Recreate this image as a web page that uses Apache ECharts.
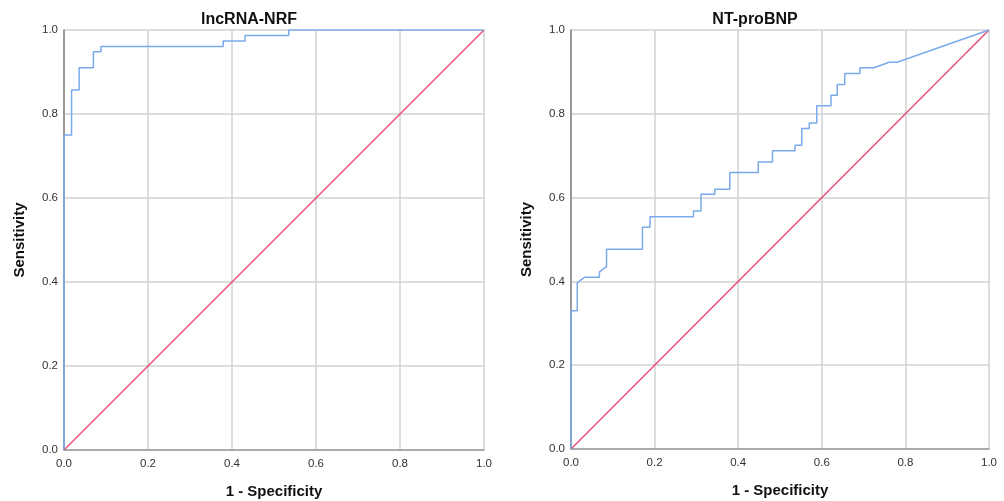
<!DOCTYPE html>
<html>
<head>
<meta charset="utf-8">
<script src="https://cdn.jsdelivr.net/npm/echarts@6/dist/echarts.min.js"></script>
<style>
html,body{margin:0;padding:0;background:#fff;}
#chart{width:1004px;height:501px;}
</style>
</head>
<body>
<div id="chart"></div>
<script>
// Titles and axis names
const titles = ['lncRNA-NRF', 'NT-proBNP'];
const xName = '1 - Specificity';
const yName = 'Sensitivity';
const tickValues = [0, 0.2, 0.4, 0.6, 0.8, 1.0];

// ROC vertices: lncRNA-NRF
const lncFpr  = [0, 0,    0.018, 0.018, 0.036, 0.036, 0.070, 0.070, 0.088, 0.088, 0.379, 0.379, 0.431, 0.431, 0.535, 0.535, 1];
const lncSens = [0, 0.75, 0.75,  0.857, 0.857, 0.910, 0.910, 0.948, 0.948, 0.961, 0.961, 0.974, 0.974, 0.987, 0.987, 1,     1];

// ROC vertices: NT-proBNP
const ntFpr  = [0, 0,    0.015, 0.015, 0.033, 0.068, 0.068, 0.085, 0.085, 0.171, 0.171, 0.189, 0.189, 0.293, 0.293, 0.311, 0.311, 0.344, 0.344, 0.380, 0.380, 0.448, 0.448, 0.482, 0.482, 0.536, 0.536, 0.552, 0.552, 0.570, 0.570, 0.588, 0.588, 0.622, 0.622, 0.637, 0.637, 0.655, 0.655, 0.691, 0.691, 0.725, 0.761, 0.780, 1];
const ntSens = [0, 0.33, 0.33,  0.397, 0.410, 0.410, 0.423, 0.435, 0.477, 0.477, 0.529, 0.529, 0.554, 0.554, 0.568, 0.568, 0.608, 0.608, 0.620, 0.620, 0.660, 0.660, 0.685, 0.685, 0.712, 0.712, 0.725, 0.725, 0.765, 0.765, 0.778, 0.778, 0.819, 0.819, 0.844, 0.844, 0.870, 0.870, 0.896, 0.896, 0.910, 0.910, 0.923, 0.923, 1];

// Reference line
const refX = [0, 1];
const refY = [0, 1];

const zip = (a, b) => a.map((v, i) => [v, b[i]]);

const blue = '#7aaaea';
const red = '#e8456c';
const font = 'Arial, "Liberation Sans", sans-serif';

const grids = [
  {left: 64, top: 30, width: 420, height: 420, containLabel: false, outerBoundsMode: 'none'},
  {left: 571, top: 30, width: 418, height: 419, containLabel: false, outerBoundsMode: 'none'}
];

function xAxis(gi) {
  return {
    gridIndex: gi, type: 'value', min: 0, max: 1, interval: 0.2,
    name: xName, nameLocation: 'middle', nameGap: 34,
    nameTextStyle: {fontFamily: font, fontSize: 15, fontWeight: 'bold', color: '#111'},
    axisLine: {show: true, lineStyle: {color: '#999', width: 1.5}},
    axisTick: {show: false},
    axisLabel: {fontFamily: font, fontSize: 11.5, color: '#333', margin: 8, formatter: v => v.toFixed(1)},
    splitLine: {show: true, lineStyle: {color: '#d2d2d2', width: 1.5}}
  };
}
function yAxis(gi) {
  return {
    gridIndex: gi, type: 'value', min: 0, max: 1, interval: 0.2,
    name: yName, nameLocation: 'middle', nameGap: 37,
    nameTextStyle: {fontFamily: font, fontSize: 15, fontWeight: 'bold', color: '#111'},
    axisLine: {show: true, lineStyle: {color: '#808080', width: 1.5}},
    axisTick: {show: false},
    axisLabel: {fontFamily: font, fontSize: 11.5, color: '#333', margin: 6, formatter: v => v.toFixed(1)},
    splitLine: {show: true, lineStyle: {color: '#d2d2d2', width: 1.5}}
  };
}

const chart = echarts.init(document.getElementById('chart'), null, {renderer: 'canvas'});
chart.setOption({
  animation: false,
  backgroundColor: '#fff',
  title: [
    {text: titles[0], left: 244, top: 7, textAlign: 'center', textStyle: {fontFamily: font, fontSize: 16, fontWeight: 'bold', color: '#111'}},
    {text: titles[1], left: 750, top: 7, textAlign: 'center', textStyle: {fontFamily: font, fontSize: 16, fontWeight: 'bold', color: '#111'}}
  ],
  grid: grids,
  xAxis: [xAxis(0), xAxis(1)],
  yAxis: [yAxis(0), yAxis(1)],
  series: [
    {type: 'line', xAxisIndex: 0, yAxisIndex: 0, data: zip(refX, refY), symbol: 'none', lineStyle: {color: red, width: 1.3}, z: 3},
    {type: 'line', xAxisIndex: 0, yAxisIndex: 0, data: zip(lncFpr, lncSens), symbol: 'none', lineStyle: {color: blue, width: 1.5}, z: 4},
    {type: 'line', xAxisIndex: 1, yAxisIndex: 1, data: zip(refX, refY), symbol: 'none', lineStyle: {color: red, width: 1.3}, z: 3},
    {type: 'line', xAxisIndex: 1, yAxisIndex: 1, data: zip(ntFpr, ntSens), symbol: 'none', lineStyle: {color: blue, width: 1.5}, z: 4}
  ]
});
</script>
</body>
</html>
